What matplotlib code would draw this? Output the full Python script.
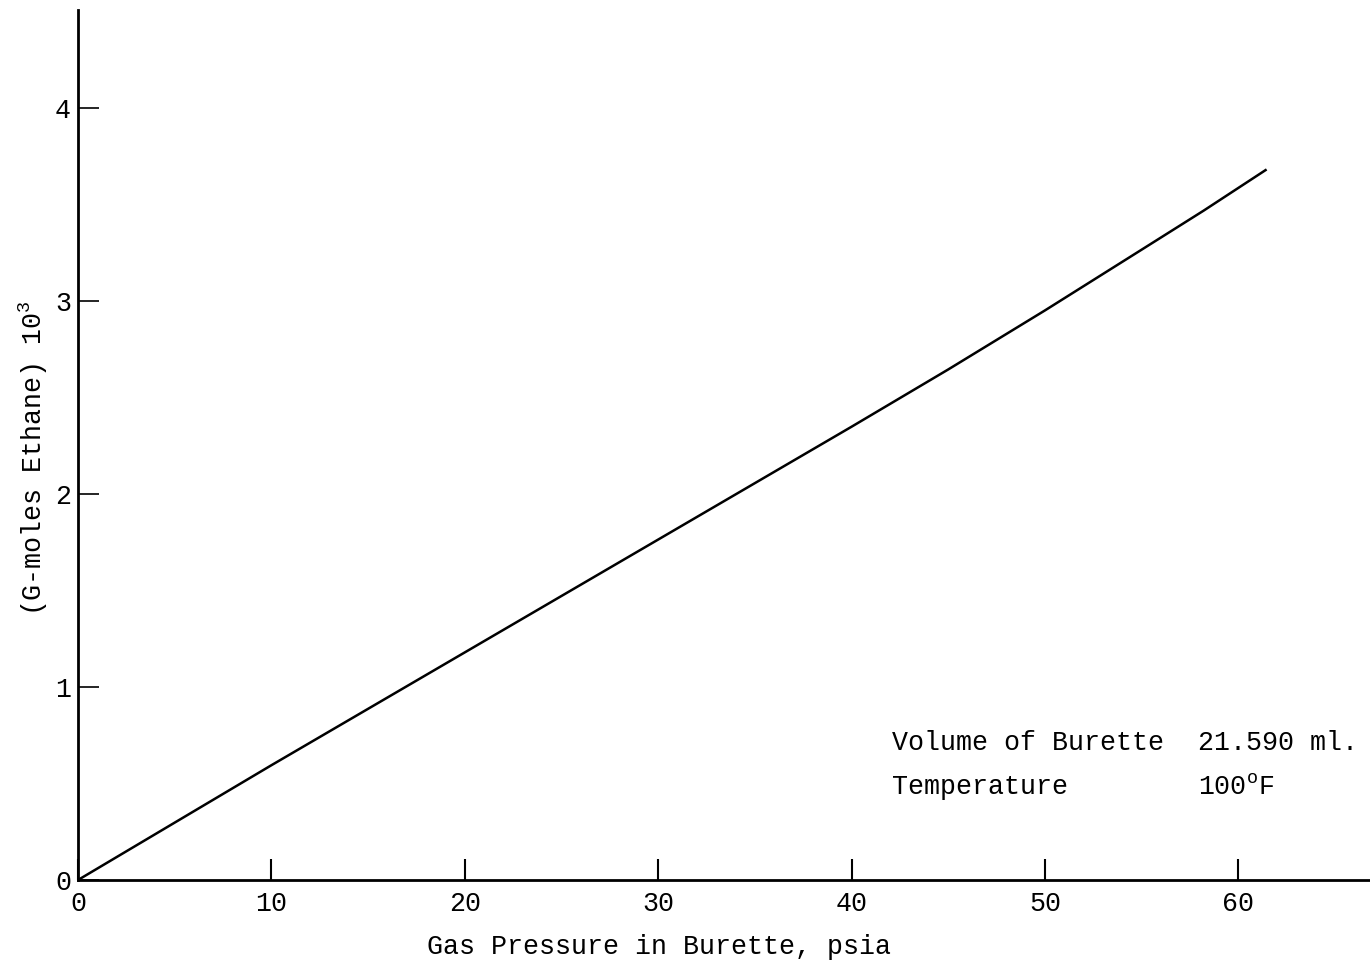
import matplotlib.pyplot as plt

# data
pressure = [0, 10, 20, 30, 40, 45, 50, 55, 58.2, 61.4]
moles = [0, 0.595, 1.18, 1.765, 2.35, 2.647, 2.953, 3.268, 3.47, 3.68]
xticks = [0, 10, 20, 30, 40, 50, 60]
yticks = [0, 1, 2, 3, 4]

plt.rcParams['font.family'] = 'Liberation Mono'
plt.rcParams['mathtext.fontset'] = 'custom'
plt.rcParams['mathtext.rm'] = 'Liberation Mono'
plt.rcParams['mathtext.it'] = 'Liberation Mono'
fs = 19.2

fig = plt.figure(figsize=(13.7, 9.67), dpi=100)
ax = fig.add_axes([78 / 1370, 87 / 967, 1 - 78 / 1370, 870 / 967])

ax.plot(pressure, moles, color='black', lw=1.8)

ax.set_xlim(0, 66.8)
ax.set_ylim(0, 4.51)
ax.spines['top'].set_visible(False)
ax.spines['right'].set_visible(False)
ax.spines['left'].set_linewidth(2)
ax.spines['bottom'].set_linewidth(2)

ax.set_xticks(xticks)
ax.set_yticks(yticks)
ax.tick_params(axis='x', direction='in', length=15, width=1.5, pad=8, labelsize=fs)
ax.tick_params(axis='y', direction='in', length=15, width=1.2, pad=5, labelsize=fs)

ax.set_xlabel('Gas Pressure in Burette, psia', fontsize=fs)
ax.xaxis.set_label_coords(0.45, -0.062)
ax.set_ylabel('(G-moles Ethane) 10$^3$', fontsize=fs)
ax.yaxis.set_label_coords(-0.022, 0.485)

ax.text(42.1, 0.71, 'Volume of Burette', fontsize=fs, va='center')
ax.text(57.9, 0.71, '21.590 ml.', fontsize=fs, va='center')
ax.text(42.1, 0.48, 'Temperature', fontsize=fs, va='center')
ax.text(57.9, 0.48, '100$^\\mathrm{o}$F', fontsize=fs, va='center')

plt.savefig('out.png', dpi=100)
